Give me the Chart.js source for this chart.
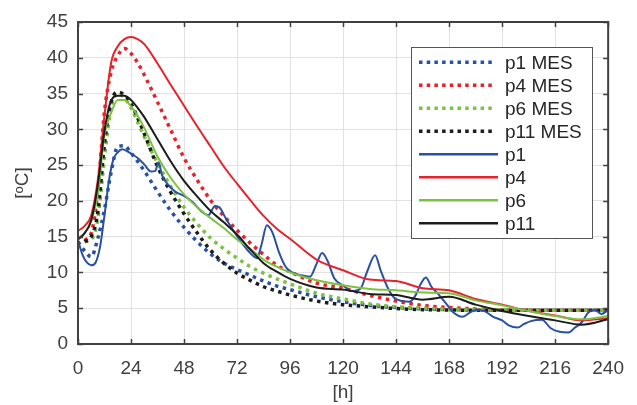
<!DOCTYPE html>
<html>
<head>
<meta charset="utf-8">
<script src="https://cdn.jsdelivr.net/npm/chart.js@4.4.1/dist/chart.umd.min.js"></script>
<style>
html,body{margin:0;padding:0;background:#fff;}
#wrap{width:637px;height:405px;position:relative;}
</style>
</head>
<body>
<div id="wrap"><canvas id="c" width="637" height="405"></canvas></div>
<script>
// ---- data ----
const xTicks = [0,24,48,72,96,120,144,168,192,216,240];
const yTicks = [0,5,10,15,20,25,30,35,40,45];
const seriesNames = ['p1 MES','p4 MES','p6 MES','p11 MES','p1','p4','p6','p11'];

const hours = [0,3,6,9,12,15,18,21,24,27,30,36,42,48,54,60,66,72,78,84,90,96,108,120,132,144,156,168,180,192,204,216,228,240];

const p1MES  = [14.3,13.0,12.2,14.8,18.8,24.0,27.6,27.7,26.7,25.5,24.2,21.3,18.6,16.3,14.3,12.6,11.3,10.4,9.6,8.8,8.1,7.6,6.6,5.9,5.4,5.1,4.9,4.8,4.75,4.7,4.7,4.7,4.7,4.7];
const p4MES  = [null,14.5,15.5,21.5,32.5,38.0,40.3,41.3,40.6,39.3,37.6,33.8,29.9,26.0,22.9,20.1,17.9,15.9,14.1,12.5,11.0,10.1,8.5,7.8,6.8,6.0,5.4,5.1,4.9,4.75,4.7,4.7,4.7,4.7];
const p6MES  = [null,14.3,14.6,17.5,26.0,33.0,35.0,34.4,33.0,31.0,29.0,25.3,22.0,19.1,16.8,14.8,13.3,12.0,10.8,9.9,9.1,8.4,7.1,6.3,5.6,5.2,5.0,4.85,4.8,4.75,4.7,4.7,4.7,4.7];
const p11MES = [null,14.3,15.0,18.5,28.0,33.8,35.2,34.8,33.6,31.6,29.4,24.8,21.2,18.2,15.5,13.1,11.3,9.9,8.9,8.0,7.4,6.85,6.0,5.5,5.2,4.95,4.8,4.75,4.7,4.7,4.7,4.7,4.7,4.7];

const p4  = [15.8,16.5,18.0,23.0,32.0,39.3,41.6,42.6,42.9,42.6,41.9,39.2,36.2,33.3,30.4,27.6,24.8,22.4,20.1,17.9,16.1,14.7,11.8,10.3,9.0,8.8,7.8,7.5,6.3,5.5,4.6,4.0,3.3,3.6];
const p6  = [14.8,15.5,17.2,21.0,29.3,32.3,34.1,34.1,33.2,31.9,30.2,26.2,23.2,20.9,19.1,17.6,16.2,14.6,13.3,11.8,10.8,10.0,8.9,8.2,7.7,7.5,7.2,7.1,6.1,5.4,4.6,3.9,3.45,3.9];
const p11 = [14.6,15.5,17.3,22.3,29.8,34.0,34.7,34.7,34.1,33.0,31.7,28.6,25.5,22.8,20.6,18.6,17.0,15.3,13.2,11.3,10.1,9.1,7.9,7.6,7.0,6.85,6.2,6.6,5.5,4.6,3.9,3.3,2.7,3.45];

const hoursP1 = [0,2,4,6,8,10,12,14,16,18,20,22,24,27,30,33,35,36.5,38,41,44,48,52,56,59,62,64,67,70,74,78,81,83,85.5,88,91,94,97,101,105,108,110.5,113,116,120,124,128,131,134.5,137,140,143,147,150,153,155,157.5,160,163,166,170,174,177,180,184,188,192,195,199,202,205,210,214,218,222,225,228,231,234,237,240];
const p1 = [14.5,12.5,11.4,11.0,11.4,13.6,18.0,22.8,25.8,26.8,27.2,27.0,26.6,26.0,25.1,24.1,24.2,25.4,23.6,22.2,21.3,20.7,19.8,18.5,18.0,19.3,19.1,17.5,16.0,14.2,12.7,12.0,13.8,16.6,15.6,12.8,10.8,10.0,9.6,9.4,11.2,12.7,11.6,9.2,8.2,7.4,7.8,10.2,12.4,10.3,8.0,6.5,6.0,5.9,6.9,8.3,9.3,8.0,7.0,5.9,4.4,3.8,4.3,4.75,4.6,3.8,3.3,2.6,2.3,2.8,3.2,3.4,2.2,1.7,1.6,2.3,3.0,4.4,4.75,4.2,4.75];

// ---- styles ----
const BLUE = '#2a50a2', RED = '#e8222a', GREEN = '#7cc242', BLACK = '#1c1c1c';
const colors = [BLUE, RED, GREEN, BLACK, BLUE, RED, GREEN, BLACK];
const DOT = [3.5, 4.5];

function pts(xs, ys){ return xs.map((x,i)=>({x:x, y:ys[i]})); }
const seriesData = [
  pts(hours,p1MES), pts(hours,p4MES), pts(hours,p6MES), pts(hours,p11MES),
  pts(hoursP1,p1), pts(hours,p4), pts(hours,p6), pts(hours,p11)
];

const datasets = seriesNames.map((n,i)=>{
  const dotted = i < 4;
  return {
    label: n,
    data: seriesData[i],
    borderColor: colors[i],
    backgroundColor: colors[i],
    borderWidth: dotted ? 3.5 : 2,
    borderDash: dotted ? DOT : [],
    borderCapStyle: 'butt',
    pointRadius: 0,
    fill: false,
    cubicInterpolationMode: 'monotone',
    spanGaps: false,
    order: 8 - i
  };
});

const FONT = '"Liberation Sans", Arial, Helvetica, sans-serif';
const TXT = '#404040';
const FS = 19;

const framePlugin = {
  id: 'framePlugin',
  afterDatasetsDraw(chart){
    const ctx = chart.ctx, a = chart.chartArea;
    const xs = chart.scales.x, ys = chart.scales.y;
    ctx.save();
    // inner ticks
    ctx.strokeStyle = '#404040';
    ctx.lineWidth = 1.5;
    const L = 5;
    ctx.beginPath();
    xTicks.forEach(v=>{
      const px = Math.round(xs.getPixelForValue(v)) + 0.5;
      ctx.moveTo(px, a.bottom); ctx.lineTo(px, a.bottom - L);
      ctx.moveTo(px, a.top); ctx.lineTo(px, a.top + L);
    });
    yTicks.forEach(v=>{
      const py = Math.round(ys.getPixelForValue(v)) + 0.5;
      ctx.moveTo(a.left, py); ctx.lineTo(a.left + L, py);
      ctx.moveTo(a.right, py); ctx.lineTo(a.right - L, py);
    });
    ctx.stroke();
    // box
    ctx.lineWidth = 2;
    ctx.strokeRect(a.left, a.top, a.right - a.left, a.bottom - a.top);

    // axis titles
    ctx.fillStyle = TXT;
    ctx.font = FS + 'px ' + FONT;
    ctx.textAlign = 'center';
    ctx.textBaseline = 'middle';
    ctx.fillText('[h]', (a.left + a.right)/2, 393);
    ctx.save();
    ctx.translate(23, (a.top + a.bottom)/2);
    ctx.rotate(-Math.PI/2);
    ctx.fillText('[ᵒC]', 0, 0);
    ctx.restore();

    // legend
    const bx = 411, by = 47, bw = 181, bh = 191;
    ctx.fillStyle = '#ffffff';
    ctx.fillRect(bx, by, bw, bh);
    ctx.strokeStyle = '#555555';
    ctx.lineWidth = 1;
    ctx.strokeRect(bx + 0.5, by + 0.5, bw, bh);
    ctx.font = FS + 'px ' + FONT;
    ctx.textAlign = 'left';
    ctx.textBaseline = 'middle';
    seriesNames.forEach((n,i)=>{
      const yy = 62.3 + i * 23.0;
      const dotted = i < 4;
      ctx.strokeStyle = colors[i];
      ctx.lineWidth = dotted ? 3.5 : 2.5;
      ctx.lineCap = 'butt';
      ctx.setLineDash(dotted ? [3.5, 4.2] : []);
      ctx.beginPath();
      ctx.moveTo(419, yy);
      ctx.lineTo(dotted ? 495 : 498, yy);
      ctx.stroke();
      ctx.setLineDash([]);
      ctx.fillStyle = '#262626';
      ctx.fillText(n, 505, yy + 1);
    });
    ctx.restore();
  }
};

new Chart(document.getElementById('c'), {
  type: 'line',
  data: { datasets: datasets },
  options: {
    responsive: false,
    animation: false,
    events: [],
    layout: { padding: { left: 0, top: 22, right: 20, bottom: 0 } },
    plugins: { legend: { display: false }, tooltip: { enabled: false } },
    scales: {
      x: {
        type: 'linear', min: 0, max: 240,
        afterBuildTicks(s){ s.ticks = xTicks.map(v=>({value:v})); },
        afterFit(s){ s.height = 61; },
        grid: { color: '#e2e2e2', lineWidth: 1, drawTicks: false },
        border: { display: false },
        ticks: { color: TXT, font: { family: FONT, size: FS }, padding: 13, maxRotation: 0, autoSkip: false }
      },
      y: {
        type: 'linear', min: 0, max: 45,
        afterBuildTicks(s){ s.ticks = yTicks.map(v=>({value:v})); },
        afterFit(s){ s.width = 78; },
        grid: { color: '#e2e2e2', lineWidth: 1, drawTicks: false },
        border: { display: false },
        ticks: { color: TXT, font: { family: FONT, size: FS }, padding: 10, autoSkip: false }
      }
    }
  },
  plugins: [framePlugin]
});
</script>
</body>
</html>
